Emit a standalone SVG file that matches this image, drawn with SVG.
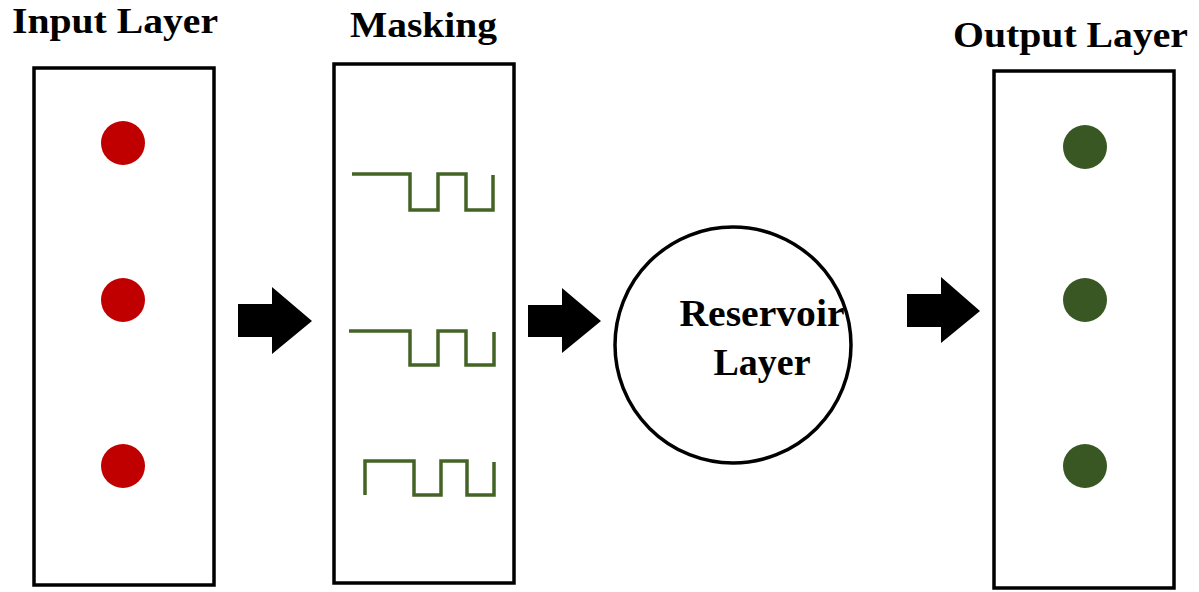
<svg xmlns="http://www.w3.org/2000/svg" width="1199" height="592" viewBox="0 0 1199 592">
  <style>
    .title { font-family: "Liberation Serif", "Times New Roman", serif; font-weight: bold; font-size: 36px; fill: #000; }
    .label { font-family: "Liberation Serif", "Times New Roman", serif; font-weight: bold; font-size: 38px; fill: #000; text-anchor: middle; }
    .box { fill: #fff; stroke: #000; stroke-width: 3.5; }
    .in-dot { fill: #c00000; }
    .out-dot { fill: #385723; }
    .wave { fill: none; stroke: #446426; stroke-width: 3.5; stroke-linejoin: miter; }
    .arrow { fill: #000; }
  </style>
  <rect width="1199" height="592" fill="#fff"/>

  <g id="input-layer">
    <text class="title" x="12" y="33" textLength="206" lengthAdjust="spacingAndGlyphs">Input Layer</text>
    <rect class="box" x="34" y="68" width="180" height="517"/>
    <circle class="in-dot" cx="123" cy="143" r="22"/>
    <circle class="in-dot" cx="123" cy="300" r="22"/>
    <circle class="in-dot" cx="123" cy="466" r="22"/>
  </g>

  <g id="masking">
    <text class="title" x="350" y="37" textLength="147" lengthAdjust="spacingAndGlyphs">Masking</text>
    <rect class="box" x="334" y="64" width="180" height="519"/>
    <path class="wave" d="M352 174 H410 V210 H438 V174 H466 V210 H493 V175"/>
    <path class="wave" d="M349 331 H410 V365 H438 V331 H466 V365 H494 V332"/>
    <path class="wave" d="M365 495 V461 H414 V495 H441 V461 H467 V495 H494 V462"/>
  </g>

  <g id="reservoir-layer">
    <circle cx="733" cy="345" r="118" fill="#fff" stroke="#000" stroke-width="3.5"/>
    <text class="label" x="762" y="326" textLength="165" lengthAdjust="spacingAndGlyphs">Reservoir</text>
    <text class="label" x="762" y="375">Layer</text>
  </g>

  <g id="output-layer">
    <text class="title" x="953" y="47" textLength="235" lengthAdjust="spacingAndGlyphs">Output Layer</text>
    <rect class="box" x="994" y="71" width="180" height="517"/>
    <circle class="out-dot" cx="1085" cy="147" r="22"/>
    <circle class="out-dot" cx="1085" cy="300" r="22"/>
    <circle class="out-dot" cx="1085" cy="466" r="22"/>
  </g>

  <g id="connectors">
    <polygon class="arrow" points="238,304 272,304 272,287 312,321 272,354 272,337 238,337"/>
    <polygon class="arrow" points="528,305 562,305 562,288 601,321 562,353 562,337 528,337"/>
    <polygon class="arrow" points="907,294 941,294 941,277 980,311 941,343 941,327 907,327"/>
  </g>
</svg>
